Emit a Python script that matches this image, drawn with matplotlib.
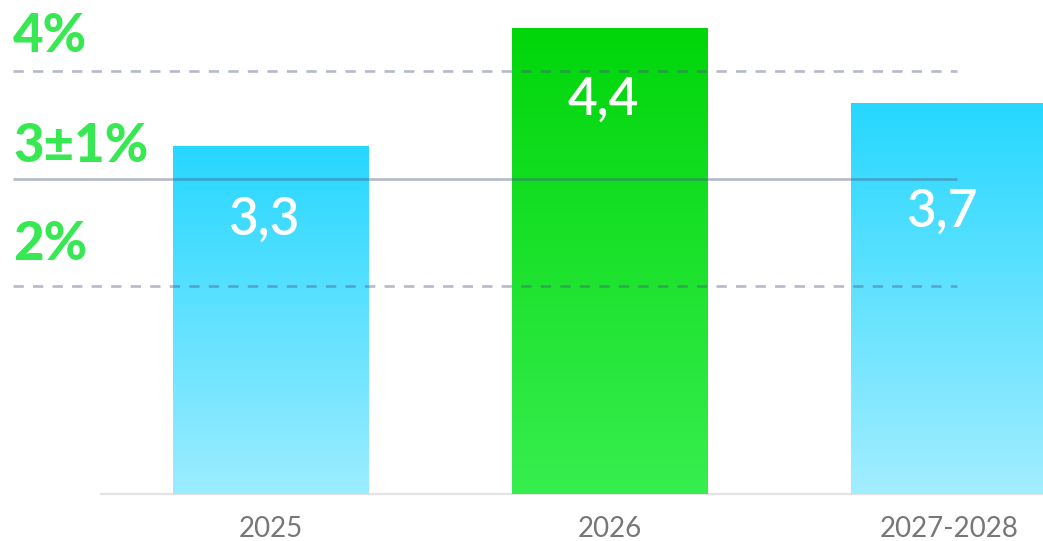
import numpy as np
import matplotlib
matplotlib.use("Agg")
import matplotlib.pyplot as plt
from matplotlib.patches import Rectangle
from matplotlib.transforms import blended_transform_factory
from matplotlib.colors import to_rgb

# ---- data ----
categories = ["2025", "2026", "2027-2028"]
values = [3.3, 4.4, 3.7]
value_labels = ["3,3", "4,4", "3,7"]
ref_levels = [4, 3, 2]
ref_labels = ["4%", "3±1%", "2%"]
ref_styles = ["dashed", "solid", "dashed"]

# ---- styles ----
grad_top = ["#26D7FF", "#00D60A", "#26D7FF"]
grad_bot = ["#9EEDFF", "#38EE50", "#A4EEFF"]
label_green = "#37E852"
label_px_below = [74, 72, 109]      # value label centre below bar top (px)
ref_label_offset = [0.18, 0.15, 0.24]  # label baseline above line (data units)

W, H, DPI = 1043, 541, 100
fig = plt.figure(figsize=(W / DPI, H / DPI), dpi=DPI)
ax = fig.add_axes([101 / W, (H - 494) / H, 1 - 101 / W, 494 / H])

px_per_unit = 107.5
x = np.arange(len(categories))
bar_w = 196 / 339
ylo = 7 / px_per_unit
yhi = 501 / px_per_unit

for i, (xi, v) in enumerate(zip(x, values)):
    rect = Rectangle((xi - bar_w / 2, 0), bar_w, v, facecolor="none",
                     edgecolor="none")
    ax.add_patch(rect)
    t = np.array(to_rgb(grad_top[i]))
    b = np.array(to_rgb(grad_bot[i]))
    f = np.linspace(0, 1, 256)[:, None]
    grad = (t * (1 - f) + b * f)[:, None, :]
    im = ax.imshow(grad, extent=(xi - bar_w / 2, xi + bar_w / 2, 0, v),
                   aspect="auto", interpolation="bilinear", zorder=1,
                   origin="upper")
    im.set_clip_path(rect)
    im.set_clip_box(ax.bbox)

ax.set_xlim(-(271 - 101) / 339, (1043 - 271) / 339)
ax.set_ylim(ylo, yhi)

# value labels
for xi, v, lab, off in zip(x, values, value_labels, label_px_below):
    ax.annotate(lab, xy=(xi, v), xytext=(-5, -off * 72 / DPI),
                textcoords="offset points", ha="center", va="center",
                color="white", fontsize=37, fontfamily="Lato",
                fontweight="semibold", zorder=5)

# reference lines
tr = blended_transform_factory(fig.transFigure, ax.transData)
for lvl, lab, st, off in zip(ref_levels, ref_labels, ref_styles, ref_label_offset):
    line, = ax.plot([13 / W, 957 / W], [lvl, lvl], transform=tr,
                    color="#46527F", alpha=0.4, lw=1.9, clip_on=False, zorder=3,
                    solid_capstyle="butt", dash_capstyle="butt")
    if st == "dashed":
        line.set_dashes((3.9, 3.5))
    ax.text(13 / W, lvl + off, lab, transform=tr, ha="left", va="baseline",
            color=label_green, fontsize=38, fontfamily="Lato",
            fontweight="black", clip_on=False, zorder=4)

# axes styling
for s in ["top", "right", "left"]:
    ax.spines[s].set_visible(False)
ax.spines["bottom"].set_color("#E3E3E3")
ax.spines["bottom"].set_linewidth(1.6)
ax.spines["bottom"].set_zorder(0.5)
ax.set_yticks([])
ax.set_xticks(x)
ax.set_xticklabels(categories, fontfamily="Lato", fontsize=20, color="#777777")
ax.tick_params(axis="x", length=0, pad=16)
ax.patch.set_alpha(0)

fig.savefig("out.png", dpi=DPI)
